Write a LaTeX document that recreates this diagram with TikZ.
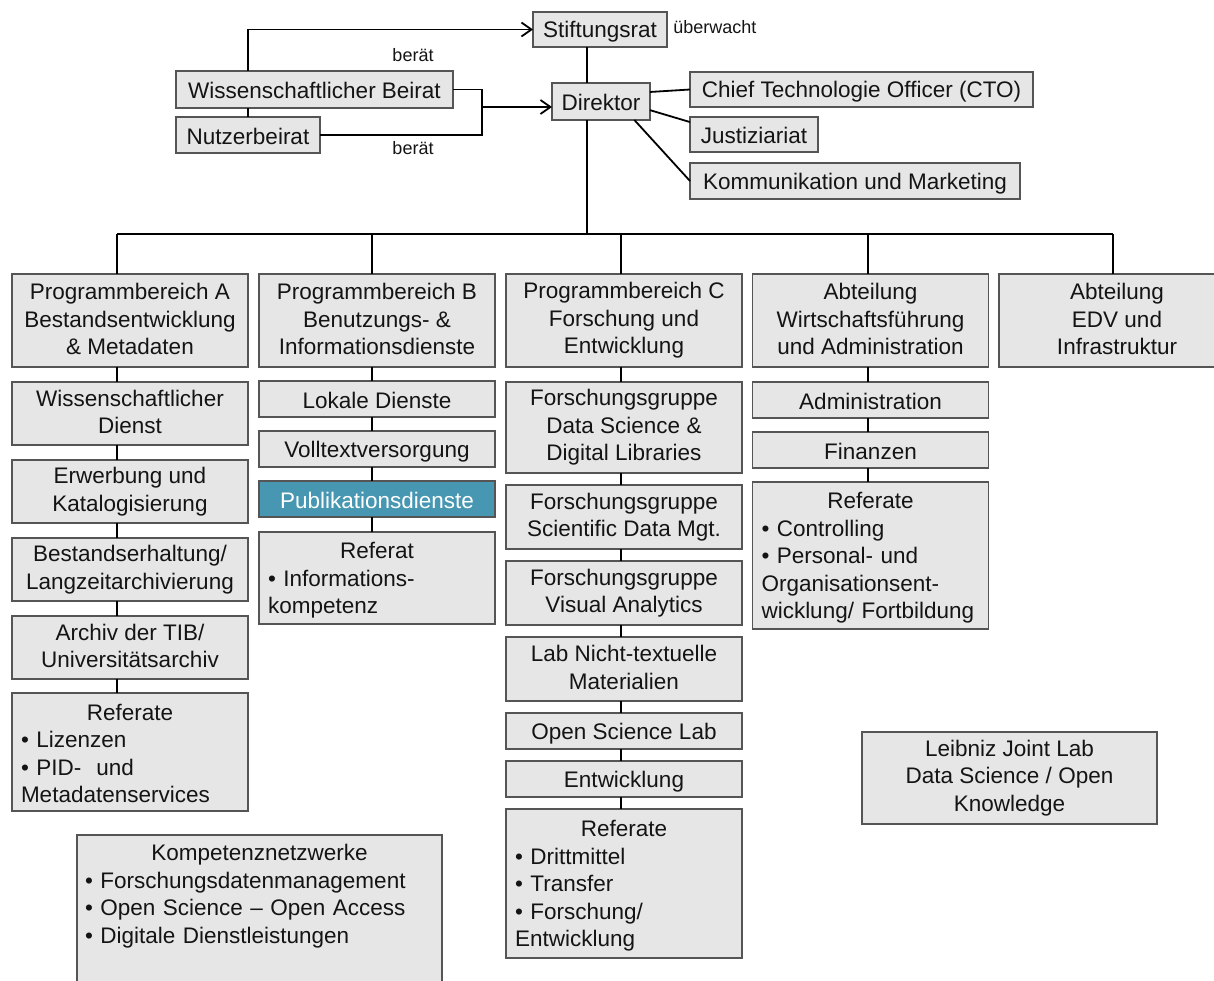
\documentclass[tikz,border=0pt]{standalone}
\usepackage{fontspec}
\setmainfont{Liberation Sans}
\usetikzlibrary{positioning,arrows.meta}

\definecolor{boxfill}{RGB}{230,230,230}
\definecolor{boxline}{RGB}{85,85,85}
\definecolor{pubblue}{RGB}{72,151,178}
\definecolor{txt}{RGB}{20,20,20}
\newcommand\boxstrut{\rule[-1.5pt]{0pt}{12.3pt}}

\begin{document}
\begin{tikzpicture}[x=0.5pt, y=-0.5pt, node distance=7pt,
  >={Straight Barb[length=5pt,width=7pt]},
  font=\fontsize{11.25}{13.75}\selectfont, text=txt,
  unit/.style={draw=boxline, fill=boxfill, line width=0.6pt, align=center, inner sep=2pt, outer sep=0pt,
    minimum width=118pt, execute at begin node=\boxstrut, execute at end node=\boxstrut},
  one/.style={unit, minimum height=18pt},
  two/.style={unit, minimum height=31.5pt},
  three/.style={unit, minimum height=46pt},
  list/.style={unit, align=left, text width=109pt, inner xsep=4.5pt},
  note/.style={font=\fontsize{9}{11}\selectfont, inner sep=0pt},
  conn/.style={line width=0.9pt}]
\path[use as bounding box] (0,0) rectangle (1214,980);
\clip (0,0) rectangle (1214,980);
% Leitung und Beiraete
\node [one, minimum width=67pt, minimum height=17.5pt] (stift) at (600,29.5) {Stiftungsrat};
\node [note] (ueber) [right=3pt of stift, yshift=1pt] {überwacht};
\node [one, minimum width=49pt, minimum height=18.5pt] (dir) at (601,101.5) {Direktor};
\node [one, minimum width=138.5pt, minimum height=18.5pt] (wiss) at (314.5,89.5) {Wissenschaftlicher Beirat};
\node [one, minimum width=72pt] (nutz) at (248,135) {Nutzerbeirat};
\node [note] (berat1) at (413,55) {berät};
\node [note] (berat2) at (413,148) {berät};
% Stabsstellen
\node [one, minimum width=171.5pt, minimum height=17.5pt] (cto) at (861.5,89.5) {Chief Technologie Officer (CTO)};
\node [one, minimum width=64pt, minimum height=17.5pt] (just) at (754,134.5) {Justiziariat};
\node [one, minimum width=165pt] (komm) at (855,181) {Kommunikation und Marketing};
% Programmbereiche und Abteilungen
\node [three, minimum height=46.5pt] (pa) at (130,320.5) {Programmbereich A\\Bestandsentwicklung\\\& Metadaten};
\node [three, minimum height=46.5pt] (pb) at (377,320.5) {Programmbereich B\\Benutzungs- \&\\Informationsdienste};
\node [three, minimum height=46.5pt] (pc) at (624,320.5) {Programmbereich C\\Forschung und\\Entwicklung};
\node [three, minimum height=46.5pt] (pd) at (870.5,320.5) {Abteilung\\Wirtschaftsführung\\und Administration};
\node [three, minimum height=46.5pt] (pe) at (1117,320.5) {Abteilung\\EDV und\\Infrastruktur};
% Bereich A
\node [two] (a1) [below=7.5pt of pa] {Wissenschaftlicher\\Dienst};
\node [two] (a2) [below=7.5pt of a1] {Erwerbung und\\Katalogisierung};
\node [two] (a3) [below=7.5pt of a2] {Bestandserhaltung/\\Langzeitarchivierung};
\node [two] (a4) [below=7.5pt of a3] {Archiv der TIB/\\Universitätsarchiv};
\node [list, minimum height=59pt] (a5) [below=7pt of a4] {\makebox[\hsize]{Referate}\\• Lizenzen\\• PID-\ \ und\\Metadatenservices};
% Bereich B
\node [one] (b1) [below=of pb] {Lokale Dienste};
\node [one] (b2) [below=of b1] {Volltextversorgung};
\node [one, fill=pubblue, text=white] (b3) [below=of b2] {Publikationsdienste};
\node [list, minimum height=46pt] (b4) [below=7.5pt of b3] {\makebox[\hsize]{Referat}\\• Informations-\\kompetenz};
% Bereich C
\node [three, minimum height=45.5pt] (c1) [below=7.5pt of pc] {Forschungsgruppe\\Data Science \&\\Digital Libraries};
\node [two, minimum height=32pt] (c2) [below=6pt of c1] {Forschungsgruppe\\Scientific Data Mgt.};
\node [two, minimum height=32pt] (c3) [below=6pt of c2] {Forschungsgruppe\\Visual Analytics};
\node [two, minimum height=32pt] (c4) [below=6pt of c3] {Lab Nicht-textuelle\\Materialien};
\node [one] (c5) [below=6pt of c4] {Open Science Lab};
\node [one] (c6) [below=6pt of c5] {Entwicklung};
\node [list, minimum height=74.5pt] (c7) [below=6pt of c6] {\makebox[\hsize]{Referate}\\• Drittmittel\\• Transfer\\• Forschung/\\Entwicklung};
% Abteilung Wirtschaftsfuehrung
\node [one] (d1) [below=7.5pt of pd] {Administration};
\node [one] (d2) [below=of d1] {Finanzen};
\node [list, minimum height=73.5pt] (d3) [below=of d2] {\makebox[\hsize]{Referate}\\• Controlling\\• Personal- und\\Organisationsent-\\wicklung/ Fortbildung};
% freie Kaesten
\node [three, minimum width=147.5pt] (leib) at (1009.5,778) {Leibniz Joint Lab\\Data Science / Open\\Knowledge};
\node [list, anchor=north west, text width=174.5pt, inner xsep=4pt] (komp) at (77,835) {\makebox[\hsize]{Kompetenznetzwerke}\\• Forschungsdatenmanagement\\• Open Science – Open Access\\• Digitale Dienstleistungen\\~\\~};
% Verbindungen
\coordinate (trunk) at (587,234);
\coordinate (spA) at (117,234);
\coordinate (spB) at (372,234);
\coordinate (spC) at (621,234);
\coordinate (spD) at (868,234);
\coordinate (spE) at (1113,234);
\coordinate (join) at (482,107);
\draw[conn,->] (wiss.north -| nutz.north) |- (stift.west);
\draw[conn] (nutz.north) -- (wiss.south -| nutz.north);
\draw[conn] (wiss.east) -| (join) |- (nutz.east);
\draw[conn,->] (join) -- (join -| dir.west);
\path[conn]
(stift.south -| trunk) edge (dir.north -| trunk)
(dir.south -| trunk) edge (trunk)
(dir.11) edge (cto.west)
(dir.350) edge (just.169)
(dir.331) edge (komm.west)
(spA) edge (spE)
(spA) edge (spA |- pa.north)
(spB) edge (spB |- pb.north)
(spC) edge (spC |- pc.north)
(spD) edge (spD |- pd.north)
(spE) edge (spE |- pe.north)
(pa.south -| spA) edge (a1.north -| spA)
(a1.south -| spA) edge (a2.north -| spA)
(a2.south -| spA) edge (a3.north -| spA)
(a3.south -| spA) edge (a4.north -| spA)
(a4.south -| spA) edge (a5.north -| spA)
(pb.south -| spB) edge (b1.north -| spB)
(b1.south -| spB) edge (b2.north -| spB)
(b2.south -| spB) edge (b3.north -| spB)
(b3.south -| spB) edge (b4.north -| spB)
(pc.south -| spC) edge (c1.north -| spC)
(c1.south -| spC) edge (c2.north -| spC)
(c2.south -| spC) edge (c3.north -| spC)
(c3.south -| spC) edge (c4.north -| spC)
(c4.south -| spC) edge (c5.north -| spC)
(c5.south -| spC) edge (c6.north -| spC)
(c6.south -| spC) edge (c7.north -| spC)
(pd.south -| spD) edge (d1.north -| spD)
(d1.south -| spD) edge (d2.north -| spD)
(d2.south -| spD) edge (d3.north -| spD)
;
\end{tikzpicture}
\end{document}
